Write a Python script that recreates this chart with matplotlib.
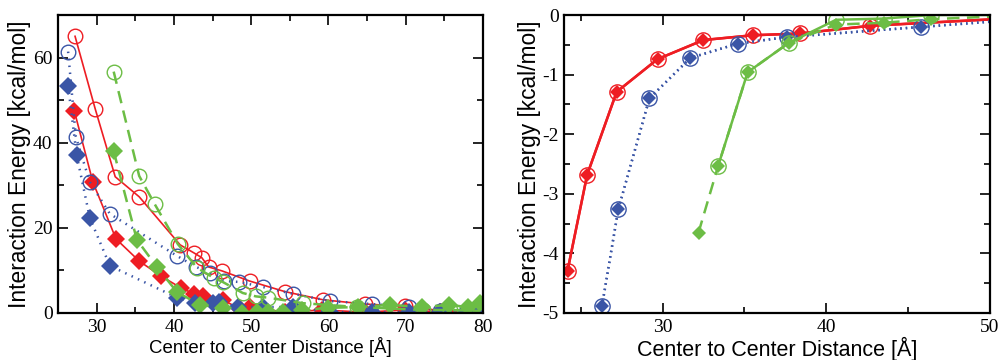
"""Interaction energy vs center-to-center distance, two panels."""
import matplotlib

matplotlib.use("Agg")
import matplotlib.pyplot as plt  # noqa: E402
from matplotlib.ticker import MultipleLocator  # noqa: E402

plt.rcParams["axes.unicode_minus"] = False

RED = "#ee1d23"
BLUE = "#3a55a6"
GREEN = "#6cbd45"

# ---- left panel data ----
red_circ_x = [27.2, 29.8, 32.4, 35.5, 40.8, 42.6, 43.6, 44.5, 46.2, 49.8, 54.4, 59.3, 64.7, 69.9, 74.7, 79.6]
red_circ_y = [65.0, 48.0, 32.0, 27.3, 16.0, 14.1, 13.0, 10.8, 9.9, 7.5, 5.0, 3.1, 2.1, 1.6, 0.5, 0.5]
red_dia_x = [27.1, 29.5, 32.5, 35.5, 38.3, 40.9, 42.6, 43.8, 46.4, 48.5, 49.8, 54.4, 59.2, 64.7, 69.9, 74.4, 79.6]
red_dia_y = [47.5, 30.8, 17.4, 12.2, 8.7, 5.9, 4.5, 4.0, 3.0, 1.0, 1.4, 0.2, 0.7, 0.2, 0.7, 0.3, 0.2]

blue_circ_x = [26.3, 27.3, 29.1, 31.7, 40.4, 42.9, 44.7, 46.5, 48.4, 51.5, 55.4, 60.2, 65.6, 70.4, 74.5, 79.6]
blue_circ_y = [61.4, 41.4, 30.8, 23.3, 13.4, 10.8, 9.4, 7.5, 7.3, 6.1, 4.5, 2.8, 2.1, 1.4, 0.5, 0.3]
blue_dia_x = [26.3, 27.4, 29.1, 31.7, 40.4, 42.7, 45.0, 45.8, 48.3, 51.5, 55.4, 60.2, 65.6, 70.4, 74.4, 77.7, 79.6]
blue_dia_y = [53.4, 37.2, 22.4, 11.1, 3.6, 2.4, 2.4, 2.6, 1.4, 1.4, 1.4, 0.2, 0.2, 0.2, 0.2, 0.3, 0.2]

green_circ_x = [32.2, 35.5, 37.5, 40.5, 43.0, 45.2, 46.3, 48.9, 50.6, 52.2, 56.7, 63.7, 72.2, 75.7, 79.6]
green_circ_y = [56.7, 32.2, 25.6, 16.2, 10.6, 8.2, 7.3, 4.7, 3.9, 3.6, 2.3, 1.4, 0.7, 0.7, 0.5]
green_dia_x = [32.2, 35.2, 37.8, 40.4, 43.4, 46.3, 48.8, 50.7, 52.2, 54.1, 56.6, 60.0, 63.8, 68.0, 72.1, 75.6, 78.0, 79.6]
green_dia_y = [38.0, 17.2, 10.8, 4.9, 1.9, 1.2, 0.0, 0.2, 0.2, 0.2, 0.7, 1.2, 1.4, 1.9, 1.4, 1.9, 1.4, 2.4]

# ---- right panel data ----
r_red_x = [24.2, 25.4, 27.2, 29.7, 32.5, 35.5, 38.4, 42.7, 54.4]
r_red_y = [-4.29, -2.68, -1.29, -0.74, -0.42, -0.34, -0.31, -0.18, -0.01]
r_blue_x = [26.3, 27.3, 29.2, 31.7, 34.6, 37.6, 45.8, 55.4]
r_blue_y = [-4.89, -3.26, -1.40, -0.72, -0.48, -0.37, -0.20, 0.0]
r_green_circ_x = [33.4, 35.2, 37.7, 40.6, 43.5, 46.4, 50.6]
r_green_circ_y = [-2.53, -0.96, -0.47, -0.08, -0.06, 0.0, 0.0]
r_green_dia_x = [32.2, 33.4, 35.2, 37.7, 40.6, 43.5, 46.4, 50.7]
r_green_dia_y = [-3.65, -2.53, -0.96, -0.47, -0.16, -0.13, -0.07, -0.02]

TICK_FONT = "Liberation Serif"
LABEL_FONT = "Liberation Sans"


def style_axes(ax):
    for s in ax.spines.values():
        s.set_linewidth(1.6)
    ax.tick_params(which="both", direction="in", top=True, right=True, width=1.2)
    ax.tick_params(which="major", length=7, labelsize=14, pad=4)
    ax.tick_params(which="minor", length=4)
    for lab in ax.get_xticklabels() + ax.get_yticklabels():
        lab.set_family(TICK_FONT)


fig = plt.figure(figsize=(10.01, 3.6), dpi=100)
ax1 = fig.add_axes([0.058, 0.1306, 0.4245, 0.8277])
ax2 = fig.add_axes([0.5637, 0.1306, 0.4253, 0.8277])

circ = dict(marker="o", markersize=10.5, markerfacecolor="none", markeredgewidth=1.0)
dia = dict(marker="D", markersize=9, markeredgewidth=0)

# left
ax1.plot(red_circ_x, red_circ_y, color=RED, lw=1.2, ls="-", **circ)
ax1.plot(red_dia_x, red_dia_y, color=RED, lw=1.2, ls="-", **dia)
ax1.plot(blue_circ_x, blue_circ_y, color=BLUE, lw=1.8, ls=(0, (0.6, 2.2)), **circ)
ax1.plot(blue_dia_x, blue_dia_y, color=BLUE, lw=1.8, ls=(0, (0.6, 2.2)), **dia)
ax1.plot(green_circ_x, green_circ_y, color=GREEN, lw=1.8, ls=(0, (5, 3)), **circ)
ax1.plot(green_dia_x, green_dia_y, color=GREEN, lw=1.8, ls=(0, (5, 3)), **dia)
ax1.set_xlim(25, 80)
ax1.set_ylim(0, 70)
ax1.xaxis.set_major_locator(MultipleLocator(10))
ax1.xaxis.set_minor_locator(MultipleLocator(5))
ax1.yaxis.set_major_locator(MultipleLocator(20))
ax1.yaxis.set_minor_locator(MultipleLocator(10))
style_axes(ax1)
ax1.set_xlabel("Center to Center Distance [Å]", family=LABEL_FONT, fontsize=13.4, labelpad=1)
ax1.set_ylabel("Interaction Energy [kcal/mol]", family=LABEL_FONT, fontsize=16.4, labelpad=1)

# right
circ2 = dict(circ, markersize=11)
dia2 = dict(dia, markersize=7.5)
ax2.plot(r_red_x, r_red_y, color=RED, lw=1.8, ls="-", **circ2)
ax2.plot(r_red_x, r_red_y, color=RED, lw=1.8, ls="-", **dia2)
ax2.plot(r_blue_x, r_blue_y, color=BLUE, lw=1.8, ls=(0, (0.6, 1.6)), **circ2)
ax2.plot(r_blue_x, r_blue_y, color=BLUE, lw=1.8, ls=(0, (0.6, 1.6)), **dia2)
ax2.plot(r_green_circ_x, r_green_circ_y, color=GREEN, lw=1.8, ls="-", **circ2)
ax2.plot(r_green_dia_x, r_green_dia_y, color=GREEN, lw=1.8, ls=(0, (5, 3)), **dia2)
ax2.set_xlim(24, 50)
ax2.set_ylim(-5, 0)
ax2.xaxis.set_major_locator(MultipleLocator(10))
ax2.xaxis.set_minor_locator(MultipleLocator(5))
ax2.yaxis.set_major_locator(MultipleLocator(1))
ax2.yaxis.set_minor_locator(MultipleLocator(0.5))
style_axes(ax2)
ax2.set_xlabel("Center to Center Distance [Å]", family=LABEL_FONT, fontsize=15.5, labelpad=1)
ax2.set_ylabel("Interaction Energy [kcal/mol]", family=LABEL_FONT, fontsize=16.4, labelpad=1)

fig.savefig("out.png", dpi=100)
plt.close(fig)
